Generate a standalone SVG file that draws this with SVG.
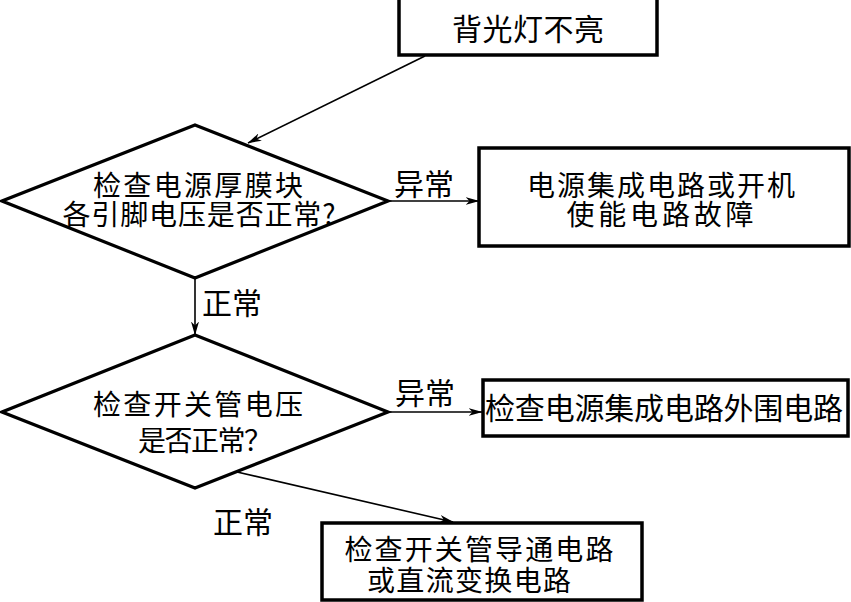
<svg xmlns="http://www.w3.org/2000/svg" width="851" height="602" viewBox="0 0 851 602">
<defs>
<style>
.box{fill:#fff;stroke:#000;stroke-width:3.5}
.dia{fill:#fff;stroke:#000;stroke-width:3.2;stroke-linejoin:miter}
.t{font-family:"Noto Sans CJK SC","Noto Sans",sans-serif;font-size:30px;fill:#000;text-anchor:middle;dominant-baseline:central}
.m{font-size:28px}
.c{fill:none;stroke:#000;stroke-width:1.6}
</style>
<marker id="arr" viewBox="0 0 14 8" refX="13.5" refY="4" markerWidth="14" markerHeight="8" markerUnits="userSpaceOnUse" orient="auto">
<path d="M0,0 L14,4 L0,8 L4,4 z" fill="#000"/>
</marker>
</defs>
<rect width="851" height="602" fill="#fff"/>
<g id="connectors">
<line class="c" x1="425" y1="56" x2="248" y2="143" marker-end="url(#arr)"/>
<line class="c" x1="388" y1="201" x2="479" y2="201" marker-end="url(#arr)"/>
<line class="c" x1="195" y1="278" x2="195" y2="335" marker-end="url(#arr)"/>
<line class="c" x1="388" y1="412" x2="482" y2="412" marker-end="url(#arr)"/>
<line class="c" x1="237" y1="472" x2="453" y2="522" marker-end="url(#arr)"/>
<text class="t" x="424" y="182">异常</text>
<text class="t" x="232" y="301">正常</text>
<text class="t" x="425" y="391">异常</text>
<text class="t" x="243" y="520">正常</text>
</g>
<g id="start">
<rect class="box" x="399" y="-2" width="258" height="57"/>
<text class="t" x="528" y="27" textLength="152">背光灯不亮</text>
</g>
<g id="check1">
<polygon class="dia" points="195,125 388,201 195,278 2,201"/>
<text class="t m" x="198" y="184" textLength="210">检查电源厚膜块</text>
<text class="t m" x="199" y="213" textLength="273">各引脚电压是否正常?</text>
</g>
<g id="fault1">
<rect class="box" x="479" y="148" width="370" height="98"/>
<text class="t m" x="661" y="184" textLength="268">电源集成电路或开机</text>
<text class="t m" x="660" y="213" textLength="187">使能电路故障</text>
</g>
<g id="check2">
<polygon class="dia" points="195,335 388,412 195,488 2,412"/>
<text class="t m" x="198" y="403" textLength="210">检查开关管电压</text>
<text class="t m" x="205" y="439" textLength="134">是否正常？</text>
</g>
<g id="fault2">
<rect class="box" x="483" y="380" width="365" height="56"/>
<text class="t" x="664" y="406" textLength="358">检查电源集成电路外围电路</text>
</g>
<g id="fault3">
<rect class="box" x="322" y="523" width="320" height="77"/>
<text class="t m" x="479" y="548" textLength="269">检查开关管导通电路</text>
<text class="t m" x="469" y="579" textLength="204">或直流变换电路</text>
</g>
</svg>
